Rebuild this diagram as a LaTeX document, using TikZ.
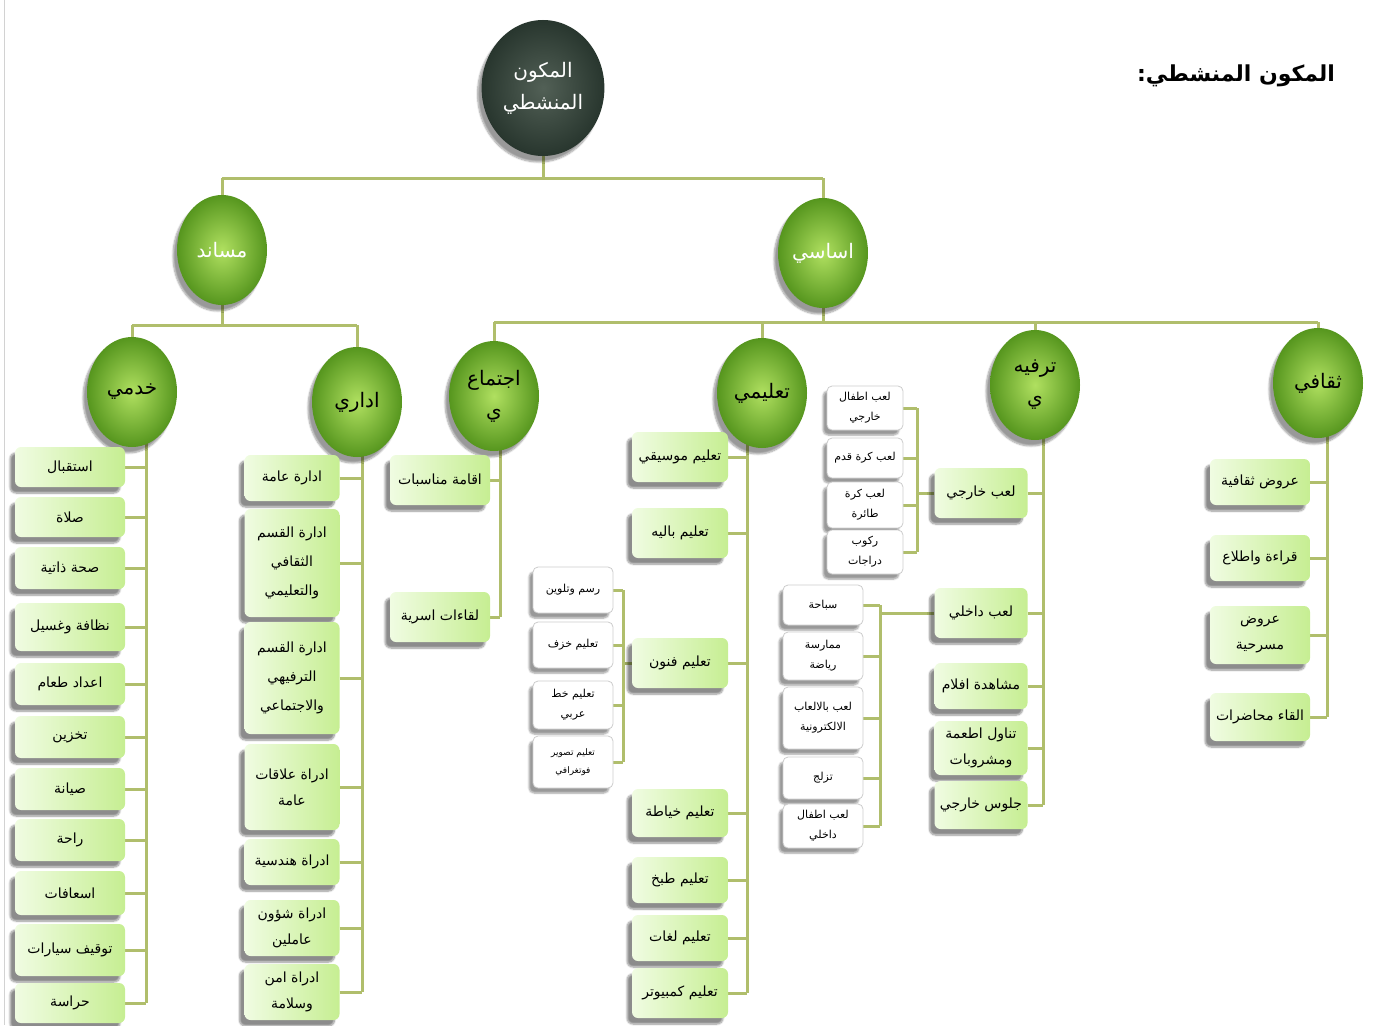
\documentclass[tikz,border=0pt]{standalone}
\usepackage{fontspec}
\newfontfamily\arabicfont[Script=Arabic]{DejaVu Sans}
\TeXXeTstate=1
\usetikzlibrary{shapes.geometric,shadows.blur,backgrounds}
\newcommand\ar[1]{{\arabicfont\beginR #1\endR}}
\definecolor{conncol}{RGB}{176,190,108}
\definecolor{boxL}{RGB}{240,252,226}
\definecolor{boxR}{RGB}{198,238,146}
\definecolor{ballin}{RGB}{176,224,96}
\definecolor{ballout}{RGB}{86,150,30}
\definecolor{rootin}{RGB}{82,96,86}
\definecolor{rootout}{RGB}{40,54,46}
\tikzset{
  conn/.style={draw=conncol, line width=3pt},
  gbox/.style={rounded corners=6pt, left color=boxL, right color=boxR, minimum width=100pt, minimum height=44pt, align=center, inner sep=2pt, font=\fontsize{14}{26}\selectfont, blur shadow={shadow xshift=-5pt, shadow yshift=-6pt, shadow blur steps=8, shadow opacity=45}},
  wbox/.style={rounded corners=5pt, fill=white, draw=gray!40, line width=0.8pt, minimum width=78pt, minimum height=44pt, align=center, inner sep=1pt, font=\fontsize{11}{20}\selectfont, blur shadow={shadow xshift=-4pt, shadow yshift=-5pt, shadow blur steps=6, shadow opacity=40}},
  gball/.style={ellipse, inner color=ballin, outer color=ballout, minimum width=90pt, minimum height=110pt, inner sep=0pt, align=center, font=\fontsize{20}{32}\selectfont, blur shadow={shadow xshift=-4pt, shadow yshift=-6pt, shadow blur steps=8, shadow opacity=40}},
}
\begin{document}
\begin{tikzpicture}[x=1pt,y=-1pt]
\useasboundingbox (0,0) rectangle (1378,1025);
\draw[gray!35, line width=1pt] (4,0) -- (4,1025);

% title
\node[font=\fontsize{22}{26}\selectfont\bfseries] (title) at (1236,76) {\ar{المكون المنشطي:}};

% circles
\node[ellipse, inner color=rootin, outer color=rootout, minimum width=122pt, minimum height=136pt, align=center, text=white, font=\fontsize{20}{32}\selectfont, blur shadow={shadow xshift=-4pt, shadow yshift=-6pt, shadow blur steps=8, shadow opacity=40}] (root) at (543,88) {\ar{المكون}\\\ar{المنشطي}};
\node[gball, text=white] (masand) at (222,250) {\ar{مساند}};
\node[gball, text=white] (asasi) at (823,253) {\ar{اساسي}};
\node[gball] (khadami) at (132,392) {\ar{خدمي}};
\node[gball] (idari) at (357,402) {\ar{اداري}};
\node[gball] (ijtimai) at (494,396) {\ar{اجتماع}\\\ar{ي}};
\node[gball] (talimi) at (762,393) {\ar{تعليمي}};
\node[gball] (tarfihi) at (1035,385) {\ar{ترفيه}\\\ar{ي}};
\node[gball] (thaqafi) at (1318,383) {\ar{ثقافي}};

% khadami
\begin{scope}[every node/.style={gbox, minimum width=110pt}]
\node[minimum height=40pt] (k1) at (70,467) {\ar{استقبال}};
\node[minimum height=40pt] (k2) at (70,517) {\ar{صلاة}};
\node[minimum height=42pt] (k3) at (70,568) {\ar{صحة ذاتية}};
\node[minimum height=48pt] (k4) at (70,627) {\ar{نظافة وغسيل}};
\node[minimum height=42pt] (k5) at (70,684) {\ar{اعداد طعام}};
\node[minimum height=42pt] (k6) at (70,737) {\ar{تخزين}};
\node[minimum height=42pt] (k7) at (70,789) {\ar{صيانة}};
\node[minimum height=42pt] (k8) at (70,840) {\ar{راحة}};
\node[minimum height=44pt] (k9) at (70,893) {\ar{اسعافات}};
\node[minimum height=52pt] (k10) at (70,950) {\ar{توقيف سيارات}};
\node[minimum height=40pt] (k11) at (70,1003) {\ar{حراسة}};
\end{scope}

% idari
\begin{scope}[every node/.style={gbox, minimum width=95pt}]
\node[minimum height=46pt] (i1) at (292,478) {\ar{ادارة عامة}};
\node[minimum height=108pt, font=\fontsize{14}{29}\selectfont] (i2) at (292,563) {\ar{ادارة القسم}\\\ar{الثقافي}\\\ar{والتعليمي}};
\node[minimum height=112pt, font=\fontsize{14}{29}\selectfont] (i3) at (292,678) {\ar{ادارة القسم}\\\ar{الترفيهي}\\\ar{والاجتماعي}};
\node[minimum height=86pt] (i4) at (292,787) {\ar{ادراة علاقات}\\\ar{عامة}};
\node[minimum height=46pt] (i5) at (292,862) {\ar{ادراة هندسية}};
\node[minimum height=56pt] (i6) at (292,928) {\ar{ادراة شؤون}\\\ar{عاملين}};
\node[minimum height=56pt] (i7) at (292,992) {\ar{ادراة امن}\\\ar{وسلامة}};
\end{scope}

% ijtimai
\begin{scope}[every node/.style={gbox, minimum width=100pt, minimum height=50pt}]
\node (j1) at (440,480) {\ar{اقامة مناسبات}};
\node (j2) at (440,617) {\ar{لقاءات اسرية}};
\end{scope}

% talimi
\begin{scope}[every node/.style={gbox, minimum width=96pt}]
\node[minimum height=50pt] (t1) at (680,457) {\ar{تعليم موسيقي}};
\node[minimum height=50pt] (t2) at (680,533) {\ar{تعليم باليه}};
\node[minimum height=50pt] (t3) at (680,663) {\ar{تعليم فنون}};
\node[minimum height=48pt] (t4) at (680,813) {\ar{تعليم خياطة}};
\node[minimum height=46pt] (t5) at (680,880) {\ar{تعليم طبخ}};
\node[minimum height=46pt] (t6) at (680,938) {\ar{تعليم لغات}};
\node[minimum height=50pt] (t7) at (680,993) {\ar{تعليم كمبيوتر}};
\end{scope}
\begin{scope}[every node/.style={wbox, minimum width=80pt}]
\node[minimum height=46pt] (f1) at (573,590) {\ar{رسم وتلوين}};
\node[minimum height=46pt] (f2) at (573,645) {\ar{تعليم خزف}};
\node[minimum height=48pt] (f3) at (573,705) {\ar{تعليم خط}\\\ar{عربي}};
\node[minimum height=52pt, font=\fontsize{9}{18}\selectfont] (f4) at (573,762) {\ar{تعليم تصوير}\\\ar{فوتغرافي}};
\end{scope}

% tarfihi
\begin{scope}[every node/.style={gbox, minimum width=93pt}]
\node[minimum height=50pt] (r1) at (981,493) {\ar{لعب خارجي}};
\node[minimum height=50pt] (r2) at (981,613) {\ar{لعب داخلي}};
\node[minimum height=46pt] (r3) at (981,686) {\ar{مشاهدة افلام}};
\node[minimum height=54pt] (r4) at (981,748) {\ar{تناول اطعمة}\\\ar{ومشروبات}};
\node[minimum height=48pt] (r5) at (981,805) {\ar{جلوس خارجي}};
\end{scope}
\begin{scope}[every node/.style={wbox, minimum width=76pt}]
\node[minimum height=44pt] (o1) at (865,408) {\ar{لعب اطفال}\\\ar{خارجي}};
\node[minimum height=40pt] (o2) at (865,458) {\ar{لعب كرة قدم}};
\node[minimum height=46pt] (o3) at (865,505) {\ar{لعب كرة}\\\ar{طائرة}};
\node[minimum height=44pt] (o4) at (865,552) {\ar{ركوب}\\\ar{دراجات}};
\end{scope}
\begin{scope}[every node/.style={wbox, minimum width=80pt}]
\node[minimum height=40pt] (d1) at (823,605) {\ar{سباحة}};
\node[minimum height=48pt] (d2) at (823,656) {\ar{ممارسة}\\\ar{رياضة}};
\node[minimum height=62pt] (d3) at (823,718) {\ar{لعب بالالعاب}\\\ar{الالكترونية}};
\node[minimum height=42pt] (d4) at (823,778) {\ar{تزلج}};
\node[minimum height=44pt] (d5) at (823,826) {\ar{لعب اطفال}\\\ar{داخلي}};
\end{scope}

% thaqafi
\begin{scope}[every node/.style={gbox, minimum width=100pt}]
\node[minimum height=46pt] (q1) at (1260,482) {\ar{عروض ثقافية}};
\node[minimum height=46pt] (q2) at (1260,558) {\ar{قراءة واطلاع}};
\node[minimum height=58pt] (q3) at (1260,635) {\ar{عروض}\\\ar{مسرحية}};
\node[minimum height=48pt] (q4) at (1260,717) {\ar{القاء محاضرات}};
\end{scope}

% spine coordinates
\coordinate (h1) at (0,178);
\coordinate (h2) at (0,325);
\coordinate (h3) at (0,322);
\coordinate (kS) at (146,0);
\coordinate (iS) at (362,0);
\coordinate (jS) at (500,0);
\coordinate (tS) at (747,0);
\coordinate (fS) at (623,0);
\coordinate (rS) at (1043,0);
\coordinate (oS) at (917,0);
\coordinate (dS) at (880,0);
\coordinate (qS) at (1327,0);

\begin{scope}[on background layer]
% top levels
\draw[conn] (root.center) -- (root.center |- h1);
\draw[conn] (masand.center |- h1) -- (asasi.center |- h1);
\draw[conn] (masand.center |- h1) -- (masand.center);
\draw[conn] (asasi.center |- h1) -- (asasi.center);
\draw[conn] (masand.center) -- (masand.center |- h2);
\draw[conn] (khadami.center |- h2) -- (idari.center |- h2);
\draw[conn] (khadami.center |- h2) -- (khadami.center);
\draw[conn] (idari.center |- h2) -- (idari.center);
\draw[conn] (asasi.center) -- (asasi.center |- h3);
\draw[conn] (ijtimai.center |- h3) -- (thaqafi.center |- h3);
\foreach \c in {ijtimai,talimi,tarfihi,thaqafi}
  \draw[conn] (\c.center |- h3) -- (\c.center);
% spines
\draw[conn] (kS |- khadami.center) -- (kS |- k11.east);
\foreach \n in {k1,k2,k3,k4,k5,k6,k7,k8,k9,k10,k11}
  \draw[conn] (\n.east) -- (\n.east -| kS);
\draw[conn] (iS |- idari.center) -- (iS |- i7.east);
\foreach \n in {i1,i2,i3,i4,i5,i6,i7}
  \draw[conn] (\n.east) -- (\n.east -| iS);
\draw[conn] (jS |- ijtimai.center) -- (jS |- j2.east);
\foreach \n in {j1,j2}
  \draw[conn] (\n.east) -- (\n.east -| jS);
\draw[conn] (tS |- talimi.center) -- (tS |- t7.east);
\foreach \n in {t1,t2,t3,t4,t5,t6,t7}
  \draw[conn] (\n.east) -- (\n.east -| tS);
\draw[conn] (fS |- f1.east) -- (fS |- f4.east);
\foreach \n in {f1,f2,f3,f4}
  \draw[conn] (\n.east) -- (\n.east -| fS);
\draw[conn] (t3.west) -- (t3.west -| fS);
\draw[conn] (rS |- tarfihi.center) -- (rS |- r5.east);
\foreach \n in {r1,r2,r3,r4,r5}
  \draw[conn] (\n.east) -- (\n.east -| rS);
\draw[conn] (oS |- o1.east) -- (oS |- o4.east);
\foreach \n in {o1,o2,o3,o4}
  \draw[conn] (\n.east) -- (\n.east -| oS);
\draw[conn] (r1.west) -- (r1.west -| oS);
\draw[conn] (dS |- d1.east) -- (dS |- d5.east);
\foreach \n in {d1,d2,d3,d4,d5}
  \draw[conn] (\n.east) -- (\n.east -| dS);
\draw[conn] (r2.west) -- (r2.west -| dS);
\draw[conn] (qS |- thaqafi.center) -- (qS |- q4.east);
\foreach \n in {q1,q2,q3,q4}
  \draw[conn] (\n.east) -- (\n.east -| qS);
\end{scope}
\end{tikzpicture}
\end{document}
